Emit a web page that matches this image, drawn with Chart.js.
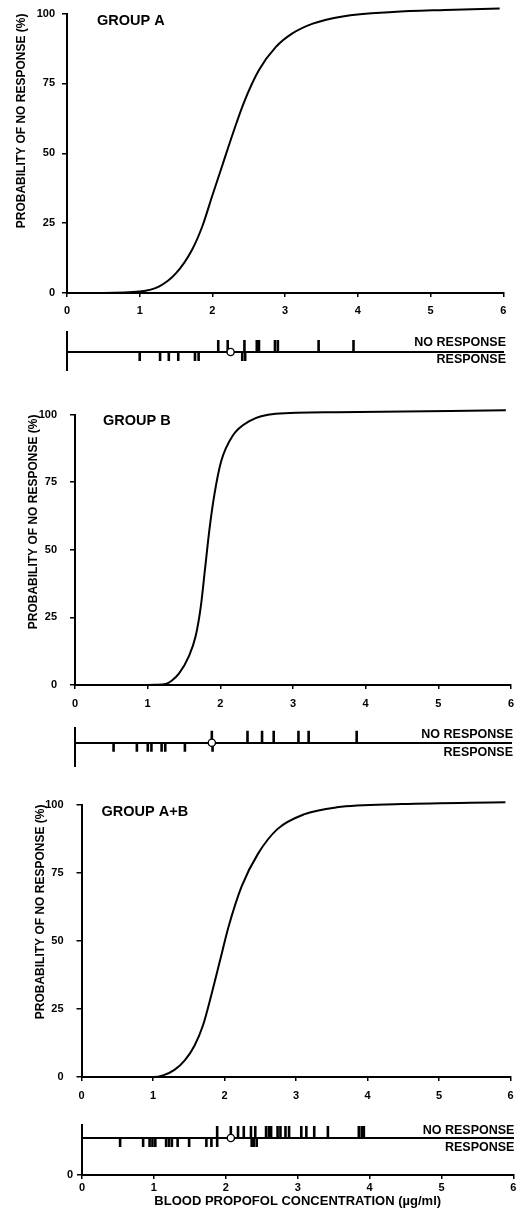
<!DOCTYPE html>
<html>
<head>
<meta charset="utf-8">
<script src="https://cdn.jsdelivr.net/npm/chart.js@4/dist/chart.umd.min.js"></script>
<style>
  html, body { margin: 0; padding: 0; background: #fff; }
  body { width: 522px; height: 1217px; position: relative; overflow: hidden; }
  canvas { position: absolute; left: 0; }
</style>
</head>
<body>
<canvas id="mainA"></canvas>
<canvas id="stripA"></canvas>
<canvas id="mainB"></canvas>
<canvas id="stripB"></canvas>
<canvas id="mainAB"></canvas>
<canvas id="stripAB"></canvas>
<script>
// ---------------- DATA ----------------
const xTickLabels = ['0', '1', '2', '3', '4', '5', '6'];
const yTickLabels = ['0', '25', '50', '75', '100'];
const stripZeroLabel = '0';
const yTitle = 'PROBABILITY OF NO RESPONSE (%)';
const xTitle = 'BLOOD PROPOFOL CONCENTRATION (µg/ml)';
const noResponseLabel = 'NO RESPONSE';
const responseLabel = 'RESPONSE';
const groupLabels = ['GROUP A', 'GROUP B', 'GROUP A+B'];

// fitted curves: concentration (µg/ml) / probability (%)
const concA = [0, 0.5, 1.0, 1.27, 1.5, 1.72, 1.86, 2.0, 2.14, 2.28, 2.43, 2.64, 2.87, 3.1, 3.38, 3.79, 4.48, 5.2, 5.95];
const probA = [0, 0, 0.5, 2.4, 7.1, 15.5, 23.8, 35.0, 46.0, 57.0, 68.0, 79.8, 88.0, 92.9, 96.4, 99.0, 100.6, 101.3, 101.8];

const concB = [0, 0.5, 1.0, 1.1, 1.25, 1.33, 1.43, 1.57, 1.66, 1.73, 1.79, 1.85, 1.92, 2.01, 2.17, 2.40, 2.76, 3.59, 5.93];
const probB = [0, 0, 0, 0.05, 0.4, 1.6, 4.2, 10.8, 18.0, 28.7, 43.0, 57.5, 70.7, 82.6, 92.2, 97.6, 100.3, 100.9, 101.6];

const concAB = [0, 0.5, 1.0, 1.15, 1.3, 1.45, 1.58, 1.7, 1.825, 1.94, 2.055, 2.24, 2.47, 2.74, 3.11, 3.57, 4.48, 5.93];
const probAB = [0, 0, 0, 0.7, 2.6, 6.3, 11.5, 19.0, 31.0, 43.0, 55.0, 70.0, 82.0, 91.0, 96.4, 99.0, 100.2, 100.9];

// individual observations (µg/ml)
const noRespA = [2.08, 2.21, 2.44, 2.61, 2.64, 2.86, 2.90, 3.46, 3.94];
const respA = [1.00, 1.28, 1.40, 1.53, 1.76, 1.81, 2.41, 2.45];
const openA = [2.25];

const noRespB = [1.88, 2.37, 2.57, 2.73, 3.07, 3.21, 3.87];
const respB = [0.53, 0.85, 1.00, 1.05, 1.19, 1.24, 1.51, 1.89];
const openB = [1.88];

const noRespAB = [1.88, 2.07, 2.17, 2.25, 2.35, 2.41, 2.56, 2.60, 2.63, 2.72, 2.76, 2.83, 2.88, 3.05, 3.12, 3.23, 3.42, 3.85, 3.89, 3.92];
const respAB = [0.53, 0.85, 0.94, 0.98, 1.02, 1.17, 1.21, 1.25, 1.33, 1.49, 1.73, 1.80, 1.88, 2.36, 2.39, 2.43];
const openAB = [2.07];

// ---------------- STYLE / LAYOUT ----------------
const FONT = '"Liberation Sans", Arial, Helvetica, sans-serif';
Chart.defaults.font.family = FONT;
Chart.defaults.font.size = 11;
Chart.defaults.font.weight = 'bold';
Chart.defaults.color = '#000';

const W = 522;
const UP_LEN = 12, DOWN_LEN = 9;   // tick mark lengths (px) in the strips

const textPlugin = {
  id: 'texts',
  afterDraw(chart, args, o) {
    const ctx = chart.ctx, ca = chart.chartArea;
    ctx.save();
    ctx.fillStyle = '#000';
    ctx.textBaseline = 'alphabetic';
    if (o.group) {
      ctx.font = 'bold 14.5px ' + FONT;
      ctx.textAlign = 'left';
      ctx.fillText(o.group, ca.left + o.gdx, ca.top + o.gdy);
    }
    if (o.strip) {
      const y0 = chart.scales.y.getPixelForValue(0);
      ctx.font = 'bold 12.5px ' + FONT;
      ctx.textAlign = 'right';
      ctx.fillText(noResponseLabel, ca.right + o.rdx, y0 + o.upDy);
      ctx.fillText(responseLabel, ca.right + o.rdx, y0 + o.downDy);
    }
    ctx.restore();
  }
};

function setup(id, top, h) {
  const el = document.getElementById(id);
  el.style.top = top + 'px';
  el.width = W; el.height = h;
  el.style.width = W + 'px'; el.style.height = h + 'px';
  return el;
}

const axisGrid = (len) => ({ display: true, drawOnChartArea: false, drawTicks: true, tickLength: len, color: '#000', lineWidth: 1.5 });
const axisBorder = { display: true, color: '#000', width: 2 };

function mainChart(id, g, conc, prob, label) {
  const el = setup(id, g.top, g.h);
  return new Chart(el, {
    type: 'line',
    data: {
      datasets: [{
        data: conc.map((x, i) => ({ x, y: prob[i] })),
        borderColor: '#000', borderWidth: 2, pointRadius: 0,
        cubicInterpolationMode: 'monotone', fill: false, clip: false
      }]
    },
    options: {
      responsive: false, animation: false, events: [],
      layout: { padding: { left: g.padL, top: g.areaTop - g.top, right: W - g.x6, bottom: 0 } },
      plugins: {
        legend: { display: false }, tooltip: { enabled: false },
        texts: { group: label, gdx: g.gdx, gdy: g.gdy }
      },
      scales: {
        x: {
          type: 'linear', min: 0, max: 6,
          ticks: { stepSize: 1, autoSkip: false, maxRotation: 0, padding: g.xPad,
                   callback: (v, i) => xTickLabels[i] },
          grid: axisGrid(4), border: axisBorder,
          afterFit: s => { s.height = g.top + g.h - g.areaBottom; }
        },
        y: {
          type: 'linear', min: 0, max: 100,
          ticks: { stepSize: 25, padding: g.yPad, callback: (v, i) => yTickLabels[i] },
          grid: axisGrid(5), border: axisBorder,
          title: { display: true, text: yTitle, align: 'end', font: { size: 12, weight: 'bold' }, padding: 0 },
          afterFit: s => { s.width = g.x0 - g.padL; }
        }
      }
    },
    plugins: [textPlugin]
  });
}

function stripChart(id, g, up, down, open, bottomAxis) {
  const el = setup(id, g.top, g.h);
  const yMax = g.line - g.areaTop, yMin = -(g.areaBottom - g.line);
  const scales = {
    y: {
      type: 'linear', min: yMin, max: yMax,
      ticks: { display: !!bottomAxis, padding: 4, callback: () => stripZeroLabel },
      afterBuildTicks: ax => { ax.ticks = bottomAxis ? [{ value: ax.min }] : []; },
      grid: bottomAxis ? axisGrid(5) : { display: false },
      border: axisBorder,
      afterFit: s => { s.width = g.x0; }
    }
  };
  if (bottomAxis) {
    scales.x = {
      type: 'linear', min: 0, max: 6, position: 'bottom',
      ticks: { stepSize: 1, autoSkip: false, maxRotation: 0, padding: 2, callback: (v, i) => xTickLabels[i] },
      grid: axisGrid(4), border: axisBorder,
      title: { display: true, text: xTitle, font: { size: 13, weight: 'bold' }, padding: { top: 0, bottom: 8 } },
      afterFit: s => { s.height = g.top + g.h - g.areaBottom; }
    };
    scales.xb = {
      type: 'linear', axis: 'x', min: 0, max: 6, position: { y: 0 },
      ticks: { display: false }, grid: { display: false }, border: axisBorder
    };
  } else {
    scales.x = {
      type: 'linear', min: 0, max: 6, position: { y: 0 },
      ticks: { display: false }, grid: { display: false }, border: axisBorder
    };
  }
  const tick = (len) => ({ pointStyle: 'line', pointRotation: 90, pointRadius: len / 2,
                           pointBorderColor: '#000', pointBorderWidth: 2.6, pointBackgroundColor: '#000' });
  return new Chart(el, {
    type: 'scatter',
    data: {
      datasets: [
        { data: open.map(x => ({ x, y: 0 })), pointStyle: 'circle', pointRadius: 3.6,
          pointBackgroundColor: '#fff', pointBorderColor: '#000', pointBorderWidth: 1.4 },
        Object.assign({ data: up.map(x => ({ x, y: UP_LEN / 2 })) }, tick(UP_LEN)),
        Object.assign({ data: down.map(x => ({ x, y: -DOWN_LEN / 2 })) }, tick(DOWN_LEN))
      ]
    },
    options: {
      responsive: false, animation: false, events: [],
      layout: { padding: { left: 0, top: g.areaTop - g.top, right: W - g.x6,
                           bottom: bottomAxis ? 0 : (g.top + g.h - g.areaBottom) } },
      plugins: {
        legend: { display: false }, tooltip: { enabled: false },
        texts: { strip: true, rdx: g.rdx, upDy: g.upDy, downDy: g.downDy }
      },
      scales
    },
    plugins: [textPlugin]
  });
}

// geometry (pixels)
const gA  = { top: 0,   h: 322, areaTop: 13,  areaBottom: 293,  x0: 67,   x6: 503.3, padL: 14.8, yPad: 7,  xPad: 7,   gdx: 30,  gdy: 11 };
const gSA = { top: 322, h: 60,  areaTop: 332, areaBottom: 370,  line: 352,  x0: 67,   x6: 503.3, rdx: 2.7, upDy: -6,  downDy: 11 };
const gB  = { top: 395, h: 320, areaTop: 407, areaBottom: 685,  x0: 75,   x6: 511.7, padL: 26.8, yPad: 13, xPad: 8,   gdx: 28,  gdy: 10 };
const gSB = { top: 715, h: 60,  areaTop: 728, areaBottom: 767,  line: 743,  x0: 75,   x6: 511.7, rdx: 1.3, upDy: -5,  downDy: 13 };
const gAB = { top: 785, h: 320, areaTop: 798, areaBottom: 1077, x0: 81.5, x6: 518.3, padL: 33.8, yPad: 13, xPad: 8.5, gdx: 20,  gdy: 11 };
const gSAB= { top: 1110,h: 107, areaTop: 1125,areaBottom: 1175, line: 1138, x0: 82,   x6: 519,   rdx: 1,   upDy: -4.5, downDy: 13 };

mainChart('mainA', gA, concA, probA, groupLabels[0]);
stripChart('stripA', gSA, noRespA, respA, openA, false);
mainChart('mainB', gB, concB, probB, groupLabels[1]);
stripChart('stripB', gSB, noRespB, respB, openB, false);
mainChart('mainAB', gAB, concAB, probAB, groupLabels[2]);
stripChart('stripAB', gSAB, noRespAB, respAB, openAB, true);
</script>
</body>
</html>
